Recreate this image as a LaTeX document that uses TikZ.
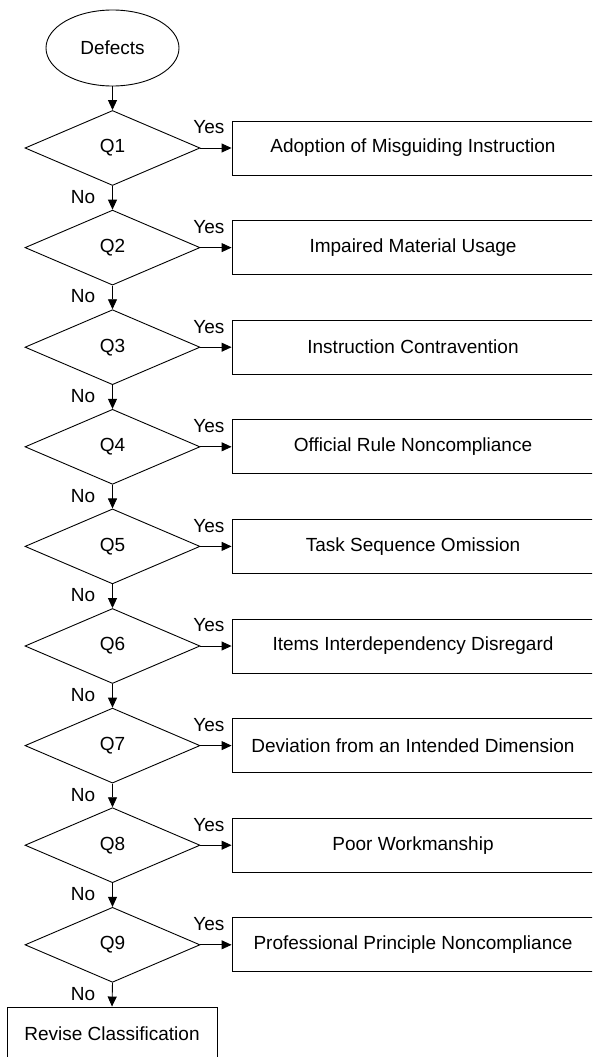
\documentclass[tikz,border=0pt]{standalone}
\usepackage{fontspec}
\setmainfont{Liberation Sans}
\usetikzlibrary{shapes.geometric,arrows.meta}
\begin{document}
\begin{tikzpicture}[x=1pt,y=-1pt,
  every node/.style={font=\fontsize{19}{21}\selectfont},
  dec/.style={diamond,draw,line width=0.9pt,minimum width=175pt,minimum height=75pt,inner sep=0pt},
  outbox/.style={rectangle,draw,line width=0.9pt,minimum width=362pt,minimum height=54pt,inner sep=0pt},
  arr/.style={line width=0.9pt,-{Triangle[length=10pt,width=9pt]}},
  lbl/.style={inner sep=0pt}]
\useasboundingbox (0,0) rectangle (592,1057);
\clip (0,0) rectangle (592,1057);
\fill[white] (0,0) rectangle (592,1057);
\node[ellipse,draw,line width=0.9pt,minimum width=133pt,minimum height=76pt,inner sep=0pt] (start) at (112.5,48) {Defects};
\foreach \i/\t in {1/Adoption of Misguiding Instruction,
                   2/Impaired Material Usage,
                   3/Instruction Contravention,
                   4/Official Rule Noncompliance,
                   5/Task Sequence Omission,
                   6/Items Interdependency Disregard,
                   7/Deviation from an Intended Dimension,
                   8/Poor Workmanship,
                   9/Professional Principle Noncompliance}{
  \pgfmathsetmacro{\yy}{148+(\i-1)*99.6}
  \node[dec] (q\i) at (112.5,\yy) {Q\i};
  \node[outbox] (b\i) at (413,\yy) {\t};
  \draw[arr] (q\i.east) -- (b\i.west);
  \node[lbl] (y\i) at ([xshift=8.5pt,yshift=20.5pt]q\i.east) {Yes};
  \node[lbl] (n\i) at ([xshift=-29.5pt,yshift=-11pt]q\i.south) {No};
}
\node[rectangle,draw,line width=0.9pt,minimum width=210pt,minimum height=54pt,inner sep=0pt] (rev) at (112,1034) {Revise Classification};
\draw[arr] (start.south) -- (q1.north);
\foreach \i/\j in {1/2,2/3,3/4,4/5,5/6,6/7,7/8,8/9}{
  \draw[arr] (q\i.south) -- (q\j.north);
}
\draw[arr] (q9.south) -- (rev.north);
\end{tikzpicture}
\end{document}
